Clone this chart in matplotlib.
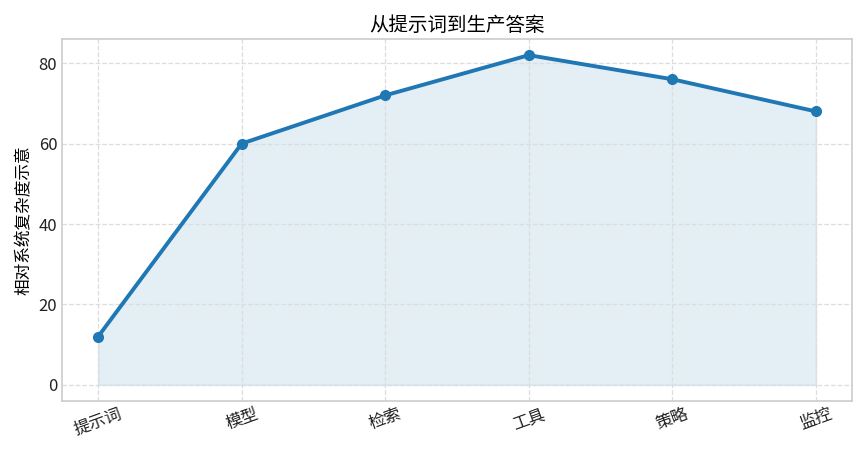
import matplotlib.pyplot as plt

plt.rcParams['font.family'] = ['Noto Sans CJK SC', 'DejaVu Sans']
plt.rcParams['axes.unicode_minus'] = False

stages = ['提示词', '模型', '检索', '工具', '策略', '监控']
complexity = [12, 60, 72, 82, 76, 68]
yticks = [0, 20, 40, 60, 80]

fig, ax = plt.subplots(figsize=(8.64, 4.49), dpi=100)
x = range(len(stages))
ax.fill_between(x, complexity, color='#1f77b4', alpha=0.12)
ax.plot(x, complexity, color='#1f77b4', linewidth=2.8, marker='o', markersize=7)

ax.set_xticks(list(x))
ax.set_xticklabels(stages, rotation=20, fontsize=12)
ax.set_yticks(yticks)
ax.set_title('从提示词到生产答案', fontsize=14)
ax.set_ylabel('相对系统复杂度示意', fontsize=12)
ax.set_ylim(-4, 86)
ax.set_xlim(-0.25, 5.25)
ax.tick_params(axis='both', length=0, labelsize=12, colors='#222222')
ax.grid(True, linestyle='--', color='#dddddd', linewidth=0.9)
for s in ax.spines.values():
    s.set_color('#cccccc')
    s.set_linewidth(1.2)

fig.subplots_adjust(left=0.072, right=0.986, top=0.913, bottom=0.107)
fig.savefig('out.png')
